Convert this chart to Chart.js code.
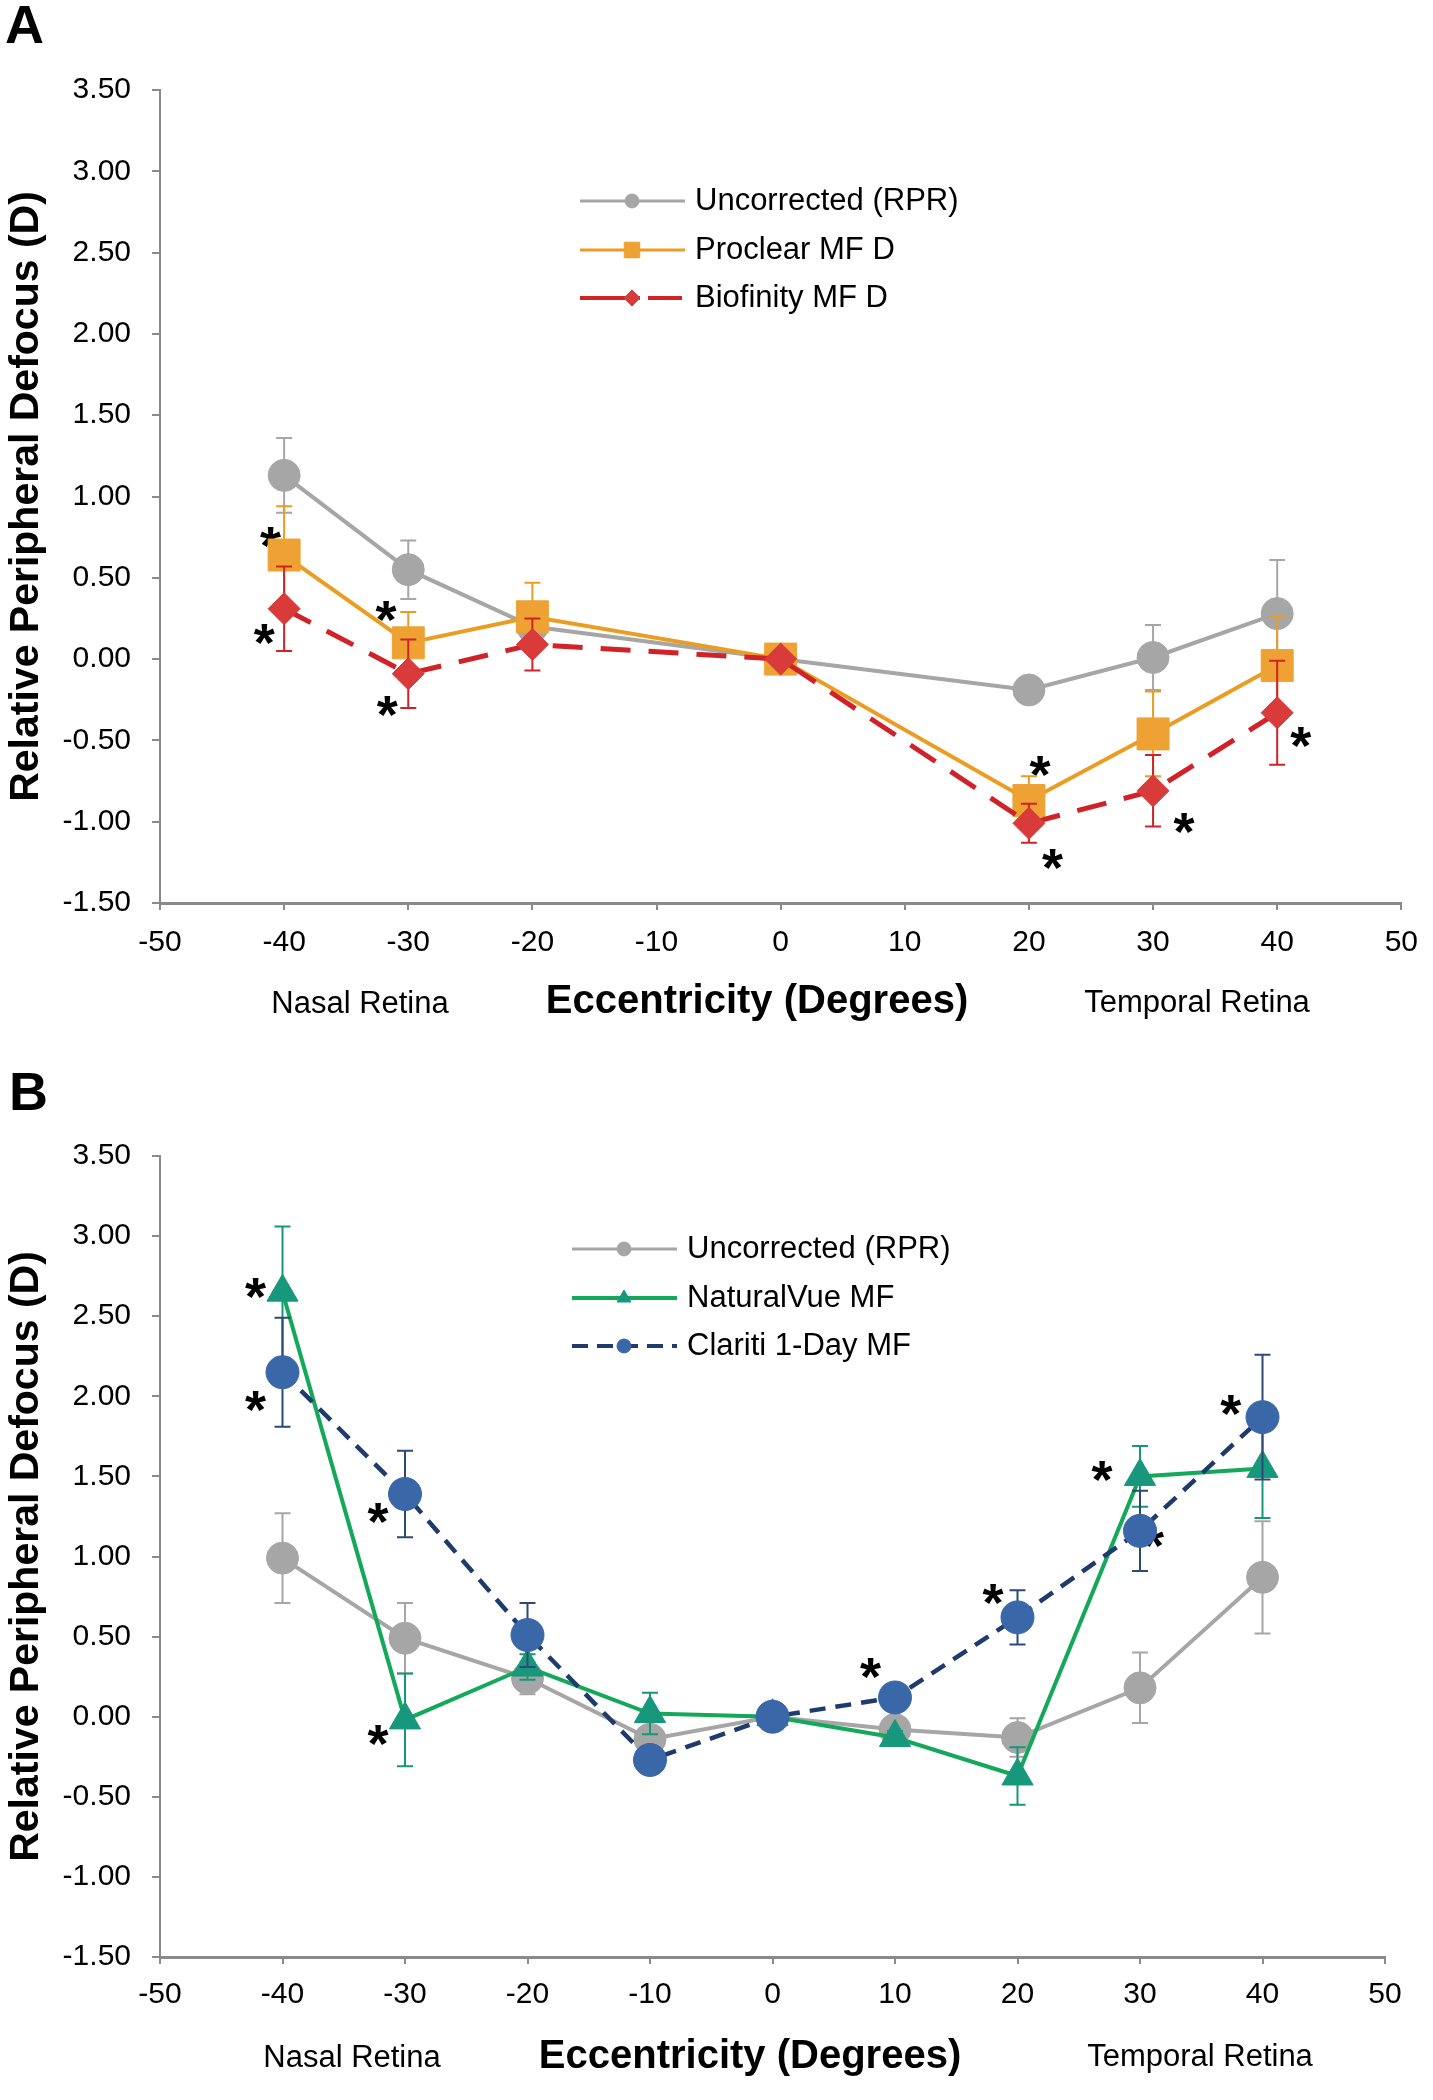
<!DOCTYPE html>
<html>
<head>
<meta charset="utf-8">
<script src="https://cdn.jsdelivr.net/npm/chart.js@4.4.1/dist/chart.umd.min.js"></script>
<style>
  body { margin: 0; background: #fff; }
  #wrap { position: relative; width: 1433px; height: 2100px; }
  .panel { position: absolute; left: 0; width: 1433px; height: 1050px; }
</style>
</head>
<body>
<div id="wrap">
  <div class="panel" style="top:0"><canvas id="chart_a" width="1433" height="1050"></canvas></div>
  <div class="panel" style="top:1050px"><canvas id="chart_b" width="1433" height="1050"></canvas></div>
</div>
<script>
// ---- panel A data (eccentricity in degrees, defocus in D) ----
const angles_a = [-40, -30, -20, 0, 20, 30, 40];
const uncorrected_a = [1.13, 0.55, 0.20, 0.00, -0.19, 0.01, 0.28];
const uncorrected_a_err = [0.23, 0.18, 0.05, 0, 0.04, 0.20, 0.33];
const proclear_a = [0.64, 0.10, 0.26, 0.00, -0.87, -0.46, -0.04];
const proclear_a_err = [0.30, 0.19, 0.21, 0, 0.15, 0.26, 0.30];
const biofinity_a = [0.31, -0.09, 0.09, 0.00, -1.01, -0.81, -0.33];
const biofinity_a_err = [0.26, 0.21, 0.16, 0, 0.12, 0.22, 0.32];
const stars_a_x = [-41.1, -41.6, -31.8, -31.7, 20.9, 21.9, 32.5, 41.9];
const stars_a_y = [0.78, 0.18, 0.32, -0.26, -0.63, -1.20, -0.98, -0.45];

// ---- panel B data ----
const angles_b = [-40, -30, -20, -10, 0, 10, 20, 30, 40];
const uncorrected_b = [0.99, 0.49, 0.24, -0.14, 0.00, -0.08, -0.13, 0.18, 0.87];
const uncorrected_b_err = [0.28, 0.22, 0.10, 0.05, 0, 0.04, 0.12, 0.22, 0.35];
const naturalvue_b = [2.65, -0.02, 0.31, 0.02, 0.00, -0.13, -0.37, 1.50, 1.55];
const naturalvue_b_err = [0.41, 0.29, 0.08, 0.13, 0, 0.04, 0.18, 0.19, 0.31];
const clariti_b = [2.15, 1.39, 0.51, -0.27, 0.00, 0.12, 0.62, 1.16, 1.87];
const clariti_b_err = [0.34, 0.27, 0.20, 0.08, 0, 0.05, 0.17, 0.25, 0.39];
const stars_b_x = [-42.2, -42.2, -32.2, -32.2, 8.0, 18.0, 26.9, 31.1, 37.4];
const stars_b_y = [2.70, 2.00, 1.30, -0.09, 0.33, 0.79, 1.56, 1.15, 1.97];

const FONT = '"Liberation Sans", Arial, Helvetica, sans-serif';
const AXIS_GREY = '#8a8a8a';

Chart.defaults.font.family = FONT;
Chart.defaults.color = '#000';


function series(label, xs, ys, errs, style) {
  return Object.assign({
    label: label,
    data: xs.map((x, i) => ({ x: x, y: ys[i] })),
    errors: errs,
    showLine: true,
    tension: 0,
    pointBorderWidth: 1,
  }, style);
}


// vertical error bars, drawn just before each dataset so its markers sit on top
const error_bars = {
  id: 'error_bars',
  beforeDatasetDraw(chart, args) {
    const ds = chart.data.datasets[args.index];
    if (!ds.errors) return;
    const ctx = chart.ctx;
    const xs = chart.scales.x, ys = chart.scales.y;
    ctx.save();
    ctx.strokeStyle = ds.errorColor || ds.borderColor;
    ctx.lineWidth = 2;
    ctx.setLineDash([]);
    ds.data.forEach((p, i) => {
      const e = ds.errors[i];
      if (!e) return;
      const x = xs.getPixelForValue(p.x);
      const y1 = ys.getPixelForValue(p.y + e);
      const y2 = ys.getPixelForValue(p.y - e);
      ctx.beginPath();
      ctx.moveTo(x, y1); ctx.lineTo(x, y2);
      ctx.moveTo(x - 8, y1); ctx.lineTo(x + 8, y1);
      ctx.moveTo(x - 8, y2); ctx.lineTo(x + 8, y2);
      ctx.stroke();
    });
    ctx.restore();
  }
};


// significance asterisks, placed in data coordinates
const stars = {
  id: 'stars',
  beforeDatasetsDraw(chart, args, opts) {
    if (!opts.xs) return;
    const ctx = chart.ctx;
    const size = 54;
    ctx.save();
    ctx.font = 'bold ' + size + 'px ' + FONT;
    ctx.fillStyle = '#000';
    ctx.textAlign = 'center';
    ctx.textBaseline = 'alphabetic';
    opts.xs.forEach((xv, i) => {
      const x = chart.scales.x.getPixelForValue(xv);
      const y = chart.scales.y.getPixelForValue(opts.ys[i]);
      ctx.fillText('*', x, y + 0.58 * size);
    });
    ctx.restore();
  }
};


// legend drawn inside the plot area: line sample + marker + label
const inner_legend = {
  id: 'inner_legend',
  afterDraw(chart, args, opts) {
    if (!opts.rows) return;
    const ctx = chart.ctx;
    chart.data.datasets.forEach((ds, i) => {
      const y = opts.rows[i];
      ctx.save();
      ctx.strokeStyle = ds.borderColor;
      ctx.lineWidth = opts.lineWidth[i];
      ctx.setLineDash(ds.legendDash || []);
      ctx.beginPath();
      ctx.moveTo(opts.x0, y);
      ctx.lineTo(opts.x1, y);
      ctx.stroke();
      ctx.setLineDash([]);
      ctx.fillStyle = ds.pointBackgroundColor;
      ctx.strokeStyle = ds.pointBorderColor;
      ctx.lineWidth = 1;
      Chart.helpers.drawPoint(ctx, {
        pointStyle: ds.pointStyle, radius: opts.radius[i], rotation: 0, borderWidth: 1
      }, opts.xm, y);
      ctx.fillStyle = '#000';
      ctx.font = '31px ' + FONT;
      ctx.textAlign = 'left';
      ctx.textBaseline = 'middle';
      ctx.fillText(ds.label, opts.tx, y);
      ctx.restore();
    });
  }
};


// free text: panel letter and the labels under the x axis
const free_text = {
  id: 'free_text',
  afterDraw(chart, args, opts) {
    if (!opts.items) return;
    const ctx = chart.ctx;
    ctx.save();
    ctx.fillStyle = '#000';
    for (const it of opts.items) {
      ctx.font = (it.bold ? 'bold ' : '') + it.size + 'px ' + FONT;
      ctx.textAlign = it.align || 'center';
      ctx.textBaseline = it.baseline || 'middle';
      ctx.fillText(it.text, it.x, it.y);
    }
    ctx.restore();
  }
};


function make_options(area, plugin_opts) {
  return {
    responsive: false,
    animation: false,
    layout: {
      padding: { left: 0, top: area.top, right: 1433 - area.right, bottom: 0 }
    },
    scales: {
      x: {
        type: 'linear',
        min: -50,
        max: 50,
        ticks: { stepSize: 10, font: { size: 30 }, color: '#000', padding: area.xpad },
        grid: { drawOnChartArea: false, tickLength: 7, color: AXIS_GREY, lineWidth: 2 },
        border: { color: AXIS_GREY, width: 3 },
        afterFit: (s) => { s.height = 1050 - area.bottom; }
      },
      y: {
        type: 'linear',
        min: -1.5,
        max: 3.5,
        ticks: {
          stepSize: 0.5,
          font: { size: 30 },
          color: '#000',
          padding: 21,
          callback: (v) => v.toFixed(2)
        },
        grid: { drawOnChartArea: false, tickLength: 8, color: AXIS_GREY, lineWidth: 2 },
        border: { color: AXIS_GREY, width: 2 },
        title: {
          display: true,
          text: 'Relative Peripheral Defocus (D)',
          font: { size: 41, weight: 'bold' },
          color: '#000',
          padding: { top: 2, bottom: 0 }
        },
        afterFit: (s) => { s.width = area.left; }
      }
    },
    plugins: Object.assign({
      legend: { display: false },
      tooltip: { enabled: false }
    }, plugin_opts)
  };
}


function plot_panel_a() {
  const grey = series('Uncorrected (RPR)', angles_a, uncorrected_a, uncorrected_a_err, {
    borderColor: '#a6a6a6', borderWidth: 4, order: 3,
    pointStyle: 'circle', pointRadius: 16, pointHoverRadius: 16,
    pointBackgroundColor: '#a6a6a6', pointBorderColor: '#a6a6a6'
  });
  const proclear = series('Proclear MF D', angles_a, proclear_a, proclear_a_err, {
    borderColor: '#eb9c22', borderWidth: 4, order: 2,
    pointStyle: 'rect', pointRadius: 22.6, pointHoverRadius: 22.6,
    pointBackgroundColor: '#eda233', pointBorderColor: '#eda233'
  });
  const biofinity = series('Biofinity MF D', angles_a, biofinity_a, biofinity_a_err, {
    borderColor: '#cf2229', borderWidth: 5, borderDash: [30, 18], order: 1,
    legendDash: [60, 8, 34, 8],
    pointStyle: 'rectRot', pointRadius: 16, pointHoverRadius: 16,
    pointBackgroundColor: '#d93a3a', pointBorderColor: '#d93a3a'
  });

  new Chart(document.getElementById('chart_a'), {
    type: 'scatter',
    data: { datasets: [grey, proclear, biofinity] },
    options: make_options({ left: 160, right: 1403, top: 90, bottom: 903, xpad: 15 }, {
      stars: { xs: stars_a_x, ys: stars_a_y },
      inner_legend: {
        x0: 580, x1: 685, xm: 632, tx: 695, rows: [201, 250, 298],
        radius: [7, 11, 8], lineWidth: [3, 3, 4]
      },
      free_text: {
        items: [
          { text: 'A', x: 5, y: 43, size: 54, bold: true, align: 'left', baseline: 'alphabetic' },
          { text: 'Nasal Retina', x: 360, y: 1004, size: 31 },
          { text: 'Eccentricity (Degrees)', x: 757, y: 1002, size: 40, bold: true },
          { text: 'Temporal Retina', x: 1197, y: 1003, size: 31 }
        ]
      }
    }),
    plugins: [error_bars, stars, inner_legend, free_text]
  });
}


function plot_panel_b() {
  const grey = series('Uncorrected (RPR)', angles_b, uncorrected_b, uncorrected_b_err, {
    borderColor: '#a6a6a6', borderWidth: 4, order: 3,
    pointStyle: 'circle', pointRadius: 16, pointHoverRadius: 16,
    pointBackgroundColor: '#a6a6a6', pointBorderColor: '#a6a6a6'
  });
  const naturalvue = series('NaturalVue MF', angles_b, naturalvue_b, naturalvue_b_err, {
    borderColor: '#14a85a', borderWidth: 4, order: 2, errorColor: '#16977a',
    pointStyle: 'triangle', pointRadius: 18, pointHoverRadius: 18,
    pointBackgroundColor: '#17977b', pointBorderColor: '#17977b'
  });
  const clariti = series('Clariti 1-Day MF', angles_b, clariti_b, clariti_b_err, {
    borderColor: '#1f3b6c', borderWidth: 4.5, borderDash: [16, 10], order: 1,
    legendDash: [16, 9], errorColor: '#2b4a74',
    pointStyle: 'circle', pointRadius: 16.5, pointHoverRadius: 16.5,
    pointBackgroundColor: '#3a67a8', pointBorderColor: '#3a67a8'
  });

  new Chart(document.getElementById('chart_b'), {
    type: 'scatter',
    data: { datasets: [grey, naturalvue, clariti] },
    options: make_options({ left: 160, right: 1385, top: 106, bottom: 907, xpad: 13 }, {
      stars: { xs: stars_b_x, ys: stars_b_y },
      inner_legend: {
        x0: 572, x1: 677, xm: 624, tx: 687, rows: [199, 248, 296],
        radius: [7, 8, 7], lineWidth: [3, 4, 4]
      },
      free_text: {
        items: [
          { text: 'B', x: 9, y: 60, size: 54, bold: true, align: 'left', baseline: 'alphabetic' },
          { text: 'Nasal Retina', x: 352, y: 1008, size: 31 },
          { text: 'Eccentricity (Degrees)', x: 750, y: 1007, size: 40, bold: true },
          { text: 'Temporal Retina', x: 1200, y: 1007, size: 31 }
        ]
      }
    }),
    plugins: [error_bars, stars, inner_legend, free_text]
  });
}


plot_panel_a();
plot_panel_b();
</script>
</body>
</html>
